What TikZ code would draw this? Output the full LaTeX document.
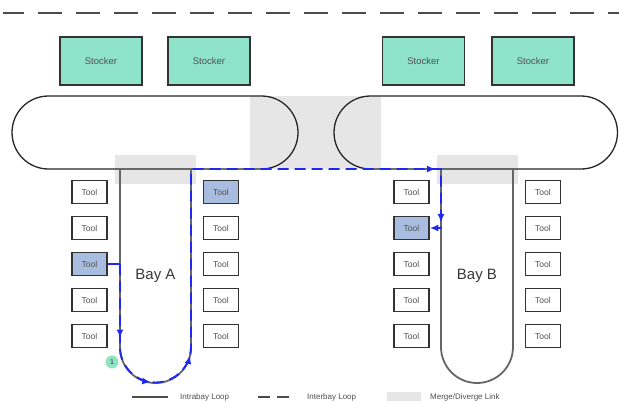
\documentclass[tikz,border=0pt]{standalone}
\usepackage{fontspec}
\setmainfont{Liberation Sans}
\usetikzlibrary{arrows.meta,decorations.markings}

\definecolor{mint}{HTML}{8EE3C8}
\definecolor{toolblue}{HTML}{A9BDE0}
\definecolor{mergegray}{HTML}{E6E6E6}
\definecolor{pathblue}{HTML}{1E28F0}
\definecolor{edge}{HTML}{333333}
\definecolor{txt}{HTML}{505050}
\definecolor{badge}{HTML}{8FE3C3}

\begin{document}
\begin{tikzpicture}[x=1pt,y=-1pt,
  tipblue/.tip={Latex[length=8.5pt,width=7pt]},
  stocker/.style={draw=edge, line width=1.5pt, fill=mint, minimum width=82pt,
    minimum height=48pt, inner sep=0pt, font=\fontsize{9.5}{10}\selectfont, text=txt},
  tool/.style={draw=edge, line width=1.5pt, fill=white, minimum width=35pt,
    minimum height=23pt, inner sep=0pt, font=\fontsize{8.5}{9}\selectfont, text=txt},
  hot/.style={tool, fill=toolblue},
  loopline/.style={line width=1.3pt, draw=black!85},
  bayline/.style={line width=1.8pt, draw=black!60},
  interbay/.style={draw=pathblue, line width=1.9pt, dash pattern=on 11pt off 6pt},
  legendtext/.style={anchor=west, font=\fontsize{8}{9}\selectfont, text=txt, inner sep=0pt},
  baylabel/.style={font=\fontsize{15}{16}\selectfont, text=black!78}]

\fill[white] (0,0) rectangle (619,402);
\useasboundingbox (0,0) rectangle (619,402);

% interbay loop across the top
\draw[line width=2.2pt, draw=black!70, dash pattern=on 24pt off 14pt, dash phase=3pt]
  (3,13) -- (619,13);

% stockers
\node[stocker] (s1) at (101,61)   {Stocker};
\node[stocker] (s2) at (209,61)   {Stocker};
\node[stocker] (s3) at (423.5,61) {Stocker};
\node[stocker] (s4) at (533,61)   {Stocker};

% merge / diverge links
\fill[mergegray] (250,96) rectangle (381,169);
\fill[mergegray] (115,155) rectangle (196,184);
\fill[mergegray] (437,155) rectangle (518,184);

% interbay loops
\draw[loopline, rounded corners=36.5pt] (12,96) rectangle (298,169);
\draw[loopline, rounded corners=36.5pt] (334,96) rectangle (617.5,169);

% intrabay loops
\draw[bayline, rounded corners=35.5pt] (120,169) -- (120,383) -- (191,383) -- (191,169);
\draw[bayline, rounded corners=36pt] (441,169) -- (441,383) -- (513,383) -- (513,169);

\node[baylabel] (bayA) at (155.5,276) {Bay A};
\node[baylabel] (bayB) at (477,276) {Bay B};

% tools
\foreach \r/\y in {1/192,2/228,3/264,4/300,5/336}{
  \node[tool] (AL\r) at (89.5,\y) {Tool};
  \node[tool] (AR\r) at (221,\y)  {Tool};
  \node[tool] (BL\r) at (411.5,\y) {Tool};
  \node[tool] (BR\r) at (543,\y)  {Tool};
}
\node[hot] at (AL3) {Tool};
\node[hot] at (AR1) {Tool};
\node[hot] at (BL2) {Tool};

% route from a tool in Bay A to a tool in Bay B
\coordinate (exitA) at (120,264);
\coordinate (arcA)  at (120,347);
\coordinate (upA)   at (191,169);
\coordinate (inB)   at (441,169);
\coordinate (dropB) at (441,228);

\draw[pathblue, line width=1.9pt] (AL3.east) -- (exitA);
\draw[interbay, -{tipblue},
  postaction={decorate, decoration={markings,
    mark=at position 74pt  with {\arrow{tipblue}},
    mark=at position 134pt with {\arrow{tipblue}},
    mark=at position 186pt with {\arrow{tipblue}},
    mark=at position 617pt with {\arrow{tipblue}},
    mark=at position 676pt with {\arrow{tipblue}}}}]
  (exitA) -- (arcA) arc[start angle=180, end angle=0, radius=35.5]
  -- (upA) -- (inB) -- (dropB) -- (BL2.east);

\node[circle, fill=badge, minimum size=13pt, inner sep=0pt,
  font=\fontsize{7}{7}\selectfont, text=black!80] (one) at (112,362) {1};

% legend
\coordinate (l1a) at (132,397);
\coordinate (l1b) at (168,397);
\draw[line width=1.8pt, draw=black!70] (l1a) -- (l1b);
\node[legendtext] (t1) at (180,397) {Intrabay Loop};
\coordinate (l2a) at (258,397);
\coordinate (l2b) at (289,397);
\draw[line width=1.8pt, draw=black!70, dash pattern=on 12pt off 7pt] (l2a) -- (l2b);
\node[legendtext] (t2) at (307,397) {Interbay Loop};
\fill[mergegray] (387,392) rectangle (421,401);
\node[legendtext] (t3) at (430,397) {Merge/Diverge Link};
\end{tikzpicture}
\end{document}
